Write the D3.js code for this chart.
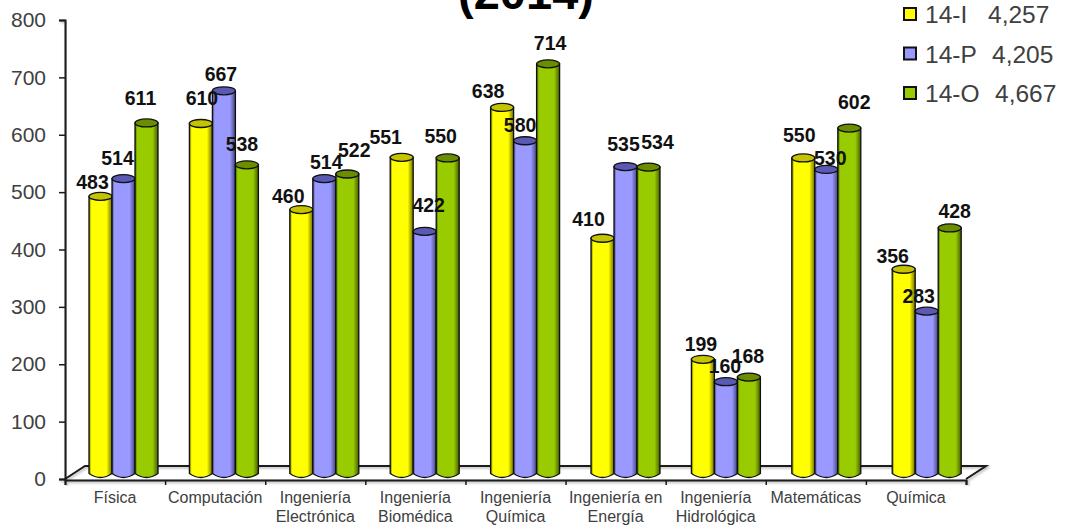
<!DOCTYPE html>
<html>
<head>
<meta charset="utf-8">
<script src="https://cdn.jsdelivr.net/npm/d3@7"></script>
<style>
html, body { margin: 0; padding: 0; background: #fff; overflow: hidden; }
svg { display: block; }
text { font-family: "Liberation Sans", Arial, sans-serif; }
</style>
</head>
<body>
<svg id="chart" width="1065" height="530"></svg>
<script>
// Enrolment per programme across the three 2014 terms.
const categories = [
  ["Física"], ["Computación"], ["Ingeniería", "Electrónica"], ["Ingeniería", "Biomédica"],
  ["Ingeniería", "Química"], ["Ingeniería en", "Energía"], ["Ingeniería", "Hidrológica"],
  ["Matemáticas"], ["Química"]
];
const seriesNames = ["14-I", "14-P", "14-O"];
const seriesTotals = ["4,257", "4,205", "4,667"];
const values14I = [483, 610, 460, 551, 638, 410, 199, 550, 356];
const values14P = [514, 667, 514, 422, 580, 535, 160, 530, 283];
const values14O = [611, 538, 522, 550, 714, 534, 168, 602, 428];
const yTicks = [0, 100, 200, 300, 400, 500, 600, 700, 800];
const title = "(2014)";

const seriesValues = [values14I, values14P, values14O];
const colors = [
  { light: "#ffff00", dark: "#6e6e00", top: "#c4c400" },
  { light: "#9999ff", dark: "#44447f", top: "#5a5ab4" },
  { light: "#99cc00", dark: "#465e00", top: "#6a8e00" }
];

const svg = d3.select("#chart");
const defs = svg.append("defs");

colors.forEach((c, i) => {
  const g = defs.append("linearGradient").attr("id", "cyl" + i)
    .attr("x1", 0).attr("x2", 1).attr("y1", 0).attr("y2", 0);
  g.append("stop").attr("offset", 0).attr("stop-color", c.dark);
  g.append("stop").attr("offset", 0.1).attr("stop-color", c.light);
  g.append("stop").attr("offset", 0.76).attr("stop-color", c.light);
  g.append("stop").attr("offset", 1).attr("stop-color", c.dark);
});
const soft = defs.append("filter").attr("id", "soft")
  .attr("x", "-20%").attr("y", "-20%").attr("width", "140%").attr("height", "140%");
soft.append("feDropShadow").attr("dx", 1.5).attr("dy", 1.5)
  .attr("stdDeviation", 1).attr("flood-color", "#000").attr("flood-opacity", 0.3);

// Front plane of the floor and the wall axis.
const axisLeft = 65, axisRight = 966, axisBottom = 479, axisTop = 20;
const depthX = 20, depthY = 13;
const ink = "#1a1a1a", textInk = "#404040";

const y = d3.scaleLinear().domain([0, 800]).range([axisBottom, axisTop]);
const x = d3.scaleBand().domain(d3.range(categories.length)).range([axisLeft, axisRight]);
// Cylinders stand further back on the floor, so their bands run slightly wider.
const barX = d3.scaleBand().domain(d3.range(categories.length)).range([axisLeft, 968.6]);
const seriesX = d3.scaleBand().domain(d3.range(3)).range([24, 93]);

// Floor outline in the oblique projection.
svg.append("path")
  .attr("d", d3.line()([
    [axisLeft, axisBottom],
    [axisLeft + depthX, axisBottom - depthY],
    [axisRight + depthX, axisBottom - depthY],
    [axisRight, axisBottom]
  ]))
  .attr("fill", "none").attr("stroke", ink).attr("stroke-width", 2).attr("filter", "url(#soft)");

const yAxis = svg.append("g").attr("transform", `translate(${axisLeft},0)`)
  .call(d3.axisLeft(y).tickValues(yTicks).tickSize(6).tickFormat(d3.format("d")));
yAxis.select(".domain").attr("stroke", ink).attr("stroke-width", 2).attr("filter", "url(#soft)");
yAxis.selectAll(".tick line").attr("stroke", ink).attr("stroke-width", 1.5);
yAxis.selectAll("text").attr("font-size", 21).attr("fill", textInk).attr("x", -19)
  .attr("font-family", '"Liberation Sans", Arial, sans-serif');

const xAxis = svg.append("g").attr("transform", `translate(0,${axisBottom + 1})`)
  .call(d3.axisBottom(d3.scaleLinear().domain([0, categories.length]).range([axisLeft, axisRight]))
    .tickValues(d3.range(categories.length + 1)).tickSize(5).tickFormat(""));
xAxis.select(".domain").attr("stroke", ink).attr("stroke-width", 2).attr("filter", "url(#soft)");
xAxis.selectAll(".tick line").attr("stroke", ink).attr("stroke-width", 1.5);

// Category names, one or two lines each.
const labels = svg.append("g").selectAll("text").data(categories).join("text")
  .attr("font-size", 16).attr("fill", textInk).attr("text-anchor", "middle")
  .attr("transform", (d, i) => `translate(${x(i) + x.bandwidth() / 2},503)`);
labels.selectAll("tspan").data(d => d).join("tspan")
  .attr("x", 0).attr("dy", (d, i) => i ? 19 : 0).text(d => d);

// Cylinders: body, rim and base drawn from each value.
const rimRy = 4;
const floorY = y(0) - 5.5;
const valueY = v => floorY - (y(0) - y(v));
const bars = svg.append("g").attr("class", "bars");
categories.forEach((c, ci) => {
  const group = bars.append("g").attr("transform", `translate(${barX(ci)},0)`);
  seriesValues.forEach((vals, si) => {
    const v = vals[ci];
    const bx = seriesX(si), bw = seriesX.bandwidth(), top = valueY(v);
    group.append("path")
      .attr("d", `M${bx},${top}V${floorY}Q${bx + bw / 2},${floorY + 2 * rimRy} ${bx + bw},${floorY}V${top}Z`)
      .attr("fill", `url(#cyl${si})`).attr("stroke", "#111").attr("stroke-width", 1.3);
    group.append("ellipse")
      .attr("cx", bx + bw / 2).attr("cy", top)
      .attr("rx", bw / 2).attr("ry", rimRy)
      .attr("fill", colors[si].top).attr("stroke", "#111").attr("stroke-width", 1.3);
  });
});

// Hand-placed value labels: offset of each label centre from its cylinder's rim.
const labelNudges = [
  [[-8, -14], [-6, -20], [-6, -24]],
  [[1, -25], [-3, -16], [-5, -20]],
  [[-13, -13], [2, -16], [7, -24]],
  [[-16, -20], [4, -26], [-7, -21]],
  [[-14, -16], [-5, -15], [2, -20]],
  [[-14, -19], [-2, -22], [9, -25]],
  [[-2, -15], [-1, -15], [-1, -21]],
  [[-4, -22], [4, -11], [5, -26]],
  [[-11, -13], [-8, -15], [5, -16]]
];
const valueLabels = svg.append("g");
categories.forEach((c, ci) => {
  seriesValues.forEach((vals, si) => {
    const [dx, dy] = labelNudges[ci][si];
    valueLabels.append("text")
      .attr("x", barX(ci) + seriesX(si) + seriesX.bandwidth() / 2 + dx)
      .attr("y", valueY(vals[ci]) + dy + 6.5)
      .attr("text-anchor", "middle").attr("font-size", 19.5).attr("font-weight", "bold")
      .attr("fill", "#111").text(vals[ci]);
  });
});

// Heading line; only its lower part falls inside the frame.
svg.append("text").attr("x", 526).attr("y", 9).attr("text-anchor", "middle")
  .attr("font-size", 47).attr("font-weight", "bold").attr("fill", "#000").text(title);

// Legend with term totals.
const legendY = d3.scalePoint().domain(seriesNames).range([14, 93]);
const legend = svg.append("g").selectAll("g").data(seriesNames).join("g")
  .attr("transform", d => `translate(0,${legendY(d)})`);
legend.append("rect").attr("x", 904).attr("y", -6).attr("width", 12).attr("height", 12)
  .attr("fill", (d, i) => colors[i].light).attr("stroke", "#111").attr("stroke-width", 2);
legend.append("text").attr("x", 925).attr("y", 9).attr("font-size", 24.5).attr("fill", textInk)
  .text(d => d);
legend.append("text").attr("x", (d, i) => [988, 992, 995][i]).attr("y", 9)
  .attr("font-size", 24.5).attr("fill", textInk).text((d, i) => seriesTotals[i]);
</script>
</body>
</html>
